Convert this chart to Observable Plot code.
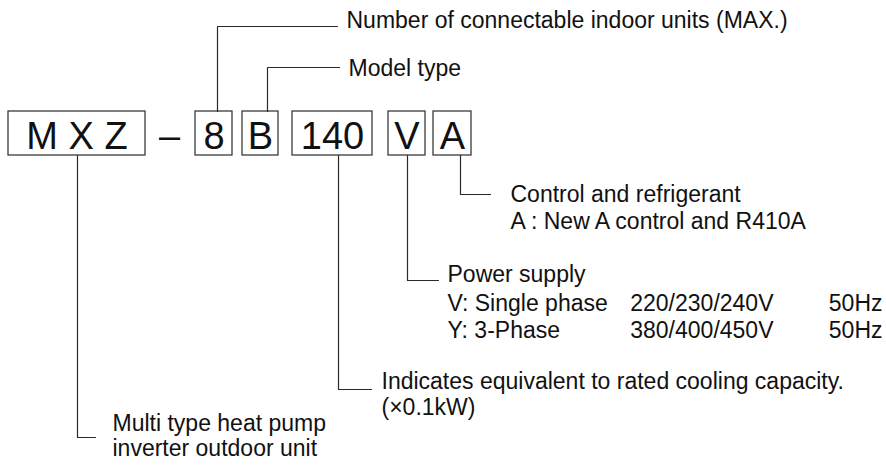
<!DOCTYPE html>
<html><head><meta charset="utf-8">
<script src="https://cdn.jsdelivr.net/npm/d3@7"></script>
<script src="https://cdn.jsdelivr.net/npm/@observablehq/plot@0.6"></script>
<style>html,body{margin:0;padding:0;background:#fff;} svg{display:block}</style>
</head><body><div id="chart"></div>
<script>
// Model-code segments (boxes) in diagram units
const codeSegments = ["M X Z", "8", "B", "140", "V", "A"];
const boxLeft  = [8, 195, 242, 292, 388, 433];
const boxRight = [145, 232, 278, 372, 425, 471];
const separator = "–";
const separatorX = 169;
const boxTop = 111, boxBottom = 155, codeBaseline = 148;

// Leader lines: segment, vertical x, elbow y, end x
const leaderSegment = ["8", "B", "A", "V", "140", "M X Z"];
const leaderX      = [217, 267, 460, 407, 338, 77];
const leaderElbowY = [26, 67, 194, 280, 389, 437];
const leaderEndX   = [337, 339, 490, 438, 371, 95];

// Label lines
const labelLines = [
  "Number of connectable indoor units (MAX.)",
  "Model type",
  "Control and refrigerant",
  "A : New A control and R410A",
  "Power supply",
  "V: Single phase",
  "220/230/240V",
  "50Hz",
  "Y: 3-Phase",
  "380/400/450V",
  "50Hz",
  "Indicates equivalent to rated cooling capacity.",
  "(×0.1kW)",
  "Multi type heat pump",
  "inverter outdoor unit"
];
const labelX = [346, 348, 510, 510, 447, 447, 773, 882, 447, 773, 882, 381, 381, 112, 112];
const labelBaseline = [27, 75, 201, 228, 281, 310, 310, 310, 337, 337, 337, 388, 414, 430, 455];
const labelAnchor = ["start","start","start","start","start","start","end","end","start","end","end","start","start","start","start"];

// Build tables
const boxes = codeSegments.map((s, i) => ({s, x1: boxLeft[i], x2: boxRight[i], cx: (boxLeft[i] + boxRight[i]) / 2, y1: boxTop, y2: boxBottom, base: codeBaseline}));
const codeText = boxes.concat([{s: separator, cx: separatorX, base: codeBaseline}]);
const leaderPts = [];
leaderSegment.forEach((seg, i) => {
  const startY = leaderElbowY[i] < boxTop ? boxTop : boxBottom;
  leaderPts.push({id: i, x: leaderX[i], y: startY});
  leaderPts.push({id: i, x: leaderX[i], y: leaderElbowY[i]});
  leaderPts.push({id: i, x: leaderEndX[i], y: leaderElbowY[i]});
});
const labels = labelLines.map((t, i) => ({t, x: labelX[i], y: labelBaseline[i], a: labelAnchor[i]}));

const chart = Plot.plot({
  width: 886, height: 466, margin: 0,
  x: {domain: [0, 886], range: [0, 886], axis: null},
  y: {domain: [0, 466], range: [0, 466], axis: null},
  style: {fontFamily: "'Liberation Sans', Arial, sans-serif", background: "#fff", color: "#111"},
  marks: [
    Plot.rect(boxes, {x1: "x1", x2: "x2", y1: "y1", y2: "y2", fill: "none", stroke: "#2a2a2a", strokeWidth: 1.2}),
    Plot.line(leaderPts, {x: "x", y: "y", z: "id", stroke: "#2a2a2a", strokeWidth: 1.2, curve: "linear"}),
    Plot.text(codeText, {x: "cx", y: "base", text: "s", fontSize: 38, lineAnchor: "bottom", textAnchor: "middle", fill: "#111"}),
    Plot.text(labels.filter(d => d.a === "start"), {x: "x", y: "y", text: "t", fontSize: 23, lineAnchor: "bottom", textAnchor: "start", fill: "#111"}),
    Plot.text(labels.filter(d => d.a === "end"), {x: "x", y: "y", text: "t", fontSize: 23, lineAnchor: "bottom", textAnchor: "end", fill: "#111"})
  ]
});
document.getElementById("chart").appendChild(chart);
</script>
</body></html>
